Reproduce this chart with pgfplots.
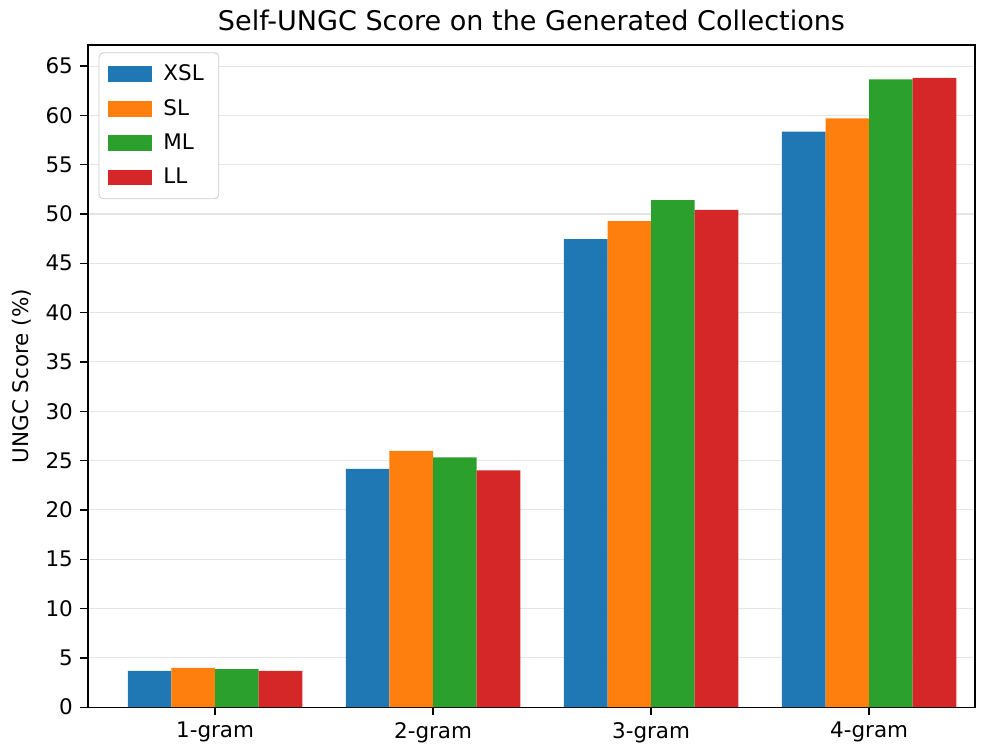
\documentclass[border=0pt]{standalone}
\usepackage{pgfplots}
\pgfplotsset{compat=1.18}
\usepackage{fontspec}
\setmainfont{DejaVu Sans}
\definecolor{c1}{HTML}{1F77B4}
\definecolor{c2}{HTML}{FF7F0E}
\definecolor{c3}{HTML}{2CA02C}
\definecolor{c4}{HTML}{D62728}
\pgfplotsset{mylegend/.style={legend image code/.code={\fill[##1, sharp corners] (0pt,-3.7pt) rectangle (20.5pt,3.7pt); \path (23pt,0pt);}}}
\begin{document}
\begin{tikzpicture}
\useasboundingbox (-41pt,-17.2pt) rectangle (419.8pt,329.5pt);
\begin{axis}[
  scale only axis,
  width=413.3pt, height=308.5pt,
  xmin=-0.583, xmax=3.486,
  ymin=0, ymax=67.13,
  xtick={0,1,2,3},
  xticklabels={1-gram,2-gram,3-gram,4-gram},
  ytick={0,5,...,65},
  tick align=outside,
  tick pos=left,
  major tick length=3.5pt,
  tick style={black, line width=0.6pt},
  axis line style={line width=0.6pt},
  ymajorgrids,
  grid style={color=black!10, line width=0.5pt},
  /pgf/number format/assume math mode=true,
  tick label style={font=\fontsize{10}{12}\selectfont},
  ylabel={UNGC Score (\%)},
  ylabel style={font=\fontsize{10}{12}\selectfont, yshift=0pt},
  title={Self-UNGC Score on the Generated Collections},
  title style={font=\fontsize{12.6}{14}\selectfont, yshift=-3pt},
  legend style={at={(0.012,0.989)}, anchor=north west, draw=black!20, rounded corners=2pt,
    font=\fontsize{10}{12}\selectfont, row sep=3.2pt, inner xsep=4pt, inner ysep=3.5pt,
    nodes={inner xsep=3pt}},
  legend cell align=left,
  ybar, bar width=0.2,
]
\addplot[fill=c1, draw=none, bar shift=-0.3, mylegend] coordinates {(0,3.68) (1,24.16) (2,47.45) (3,58.34)};
\addplot[fill=c2, draw=none, bar shift=-0.1, mylegend] coordinates {(0,3.99) (1,25.99) (2,49.28) (3,59.69)};
\addplot[fill=c3, draw=none, bar shift=0.1, mylegend] coordinates {(0,3.85) (1,25.32) (2,51.41) (3,63.65)};
\addplot[fill=c4, draw=none, bar shift=0.3, mylegend] coordinates {(0,3.68) (1,24.0) (2,50.43) (3,63.81)};
\legend{XSL,SL,ML,LL}
\end{axis}
\end{tikzpicture}
\end{document}
